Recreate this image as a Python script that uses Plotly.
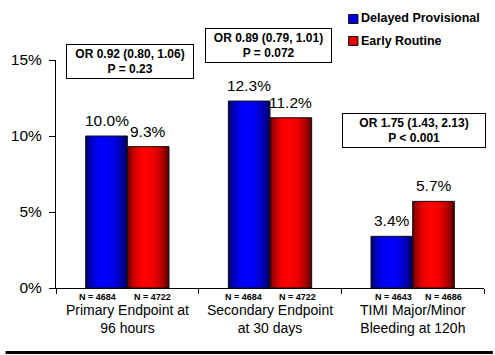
import math
import plotly.graph_objects as go

# ---------------- data ----------------
categories = ["Primary Endpoint at<br>96 hours",
              "Secondary Endpoint<br>at 30 days",
              "TIMI Major/Minor<br>Bleeding at 120h"]
series_names = ["Delayed Provisional", "Early Routine"]
delayed_vals = [10.0, 12.3, 3.4]
early_vals = [9.3, 11.2, 5.7]
n_delayed = [4684, 4684, 4643]
n_early = [4722, 4722, 4686]
or_lines = ["OR 0.92 (0.80, 1.06)", "OR 0.89 (0.79, 1.01)", "OR 1.75 (1.43, 2.13)"]
p_lines = ["P = 0.23", "P = 0.072", "P < 0.001"]
y_tickvals = [0, 5, 10, 15]
y_ticktext = ["0%", "5%", "10%", "15%"]

# ---------------- style ----------------
FONT = "Liberation Sans, Arial, sans-serif"
W = 495
H = 355
ML, MR, MT, MB = 51, 11, 60, 67
PW = W - ML - MR
PH = H - MT - MB
BAR_W = 0.292          # width of one bar in category units
STRIPS = 18

def px_x(px):
    return (px - ML) / PW

def px_y(py):
    return (H - MB - py) / PH

def shade(t):
    tt = t ** 0.87
    return 0.22 + 0.78 * (math.sin(math.pi * tt) ** 0.6)

fig = go.Figure()

series = [
    (delayed_vals, -BAR_W, (0, 0, 255), "#0000e6"),
    (early_vals, 0.0, (255, 0, 0), "#e60000"),
]

for vals, off, rgb, solid in series:
    for k in range(STRIPS):
        t = (k + 0.5) / STRIPS
        f = shade(t)
        col = "rgb(%d,%d,%d)" % tuple(int(c * f) for c in rgb)
        fig.add_trace(go.Bar(
            x=categories, y=vals,
            offset=off + k * BAR_W / STRIPS,
            width=BAR_W / STRIPS * 1.35 if k < STRIPS - 1 else BAR_W / STRIPS,
            marker=dict(color=col, line=dict(width=0)),
            showlegend=False, hoverinfo="skip",
        ))
    # outline
    fig.add_trace(go.Bar(
        x=categories, y=vals, offset=off, width=BAR_W,
        marker=dict(color="rgba(0,0,0,0)", line=dict(color="#111111", width=1)),
        showlegend=False, hoverinfo="skip",
    ))

annotations = []
# value labels
for i in range(len(categories)):
    for vals, sign in ((delayed_vals, -1), (early_vals, 1)):
        annotations.append(dict(
            x=i + sign * BAR_W / 2, y=vals[i], xref="x", yref="y",
            text="%.1f%%" % vals[i], showarrow=False,
            yanchor="bottom", xanchor="center", yshift=5,
            font=dict(family=FONT, size=15.5, color="black"),
        ))
# N labels
n_shift = [(-30, 25), (-27, 27), (-19, 31)]
for i in range(len(categories)):
    for nlist, j in ((n_delayed, 0), (n_early, 1)):
        annotations.append(dict(
            x=i, y=0, xref="x", yref="paper",
            text="N = %d" % nlist[i], showarrow=False,
            xanchor="center", yanchor="top", xshift=n_shift[i][j], yshift=-2,
            font=dict(family=FONT, size=9, color="black", weight="bold"),
        ))
# category labels
for i, c in enumerate(categories):
    annotations.append(dict(
        x=i, y=0, xref="x", yref="paper", text=c, showarrow=False,
        xanchor="center", yanchor="top", yshift=-12,
        font=dict(family=FONT, size=14, color="black"),
    ))
# OR boxes
box_pos = [(126, 61.5, 122), (265.5, 45.5, 121), (413, 130.5, 138)]
for i in range(len(categories)):
    cx, cy, bw = box_pos[i]
    annotations.append(dict(
        x=px_x(cx), y=px_y(cy), xref="paper", yref="paper",
        text=or_lines[i] + "<br>" + p_lines[i], showarrow=False,
        xanchor="center", yanchor="middle", width=bw, height=29,
        bordercolor="black", borderwidth=1, borderpad=2, bgcolor="white",
        font=dict(family=FONT, size=12, color="black", weight="bold"),
    ))
# legend text
leg = [(series_names[0], 18.5, "#0000e6"), (series_names[1], 40.5, "#e60000")]
shapes = []
for name, cy, col in leg:
    annotations.append(dict(
        x=px_x(358), y=px_y(cy), xref="paper", yref="paper", text=name,
        showarrow=False, xanchor="left", yanchor="middle",
        font=dict(family=FONT, size=12.5, color="black", weight="bold"),
    ))
    shapes.append(dict(
        type="rect", xref="paper", yref="paper",
        x0=px_x(347), x1=px_x(356.5), y0=px_y(cy + 5), y1=px_y(cy - 4),
        fillcolor=col, line=dict(color="#111111", width=1),
    ))
# bottom rule
shapes.append(dict(
    type="line", xref="paper", yref="paper",
    x0=px_x(0), x1=px_x(493), y0=px_y(352.5), y1=px_y(352.5),
    line=dict(color="black", width=3),
))

fig.update_layout(
    width=W, height=H, autosize=False,
    margin=dict(l=ML, r=MR, t=MT, b=MB, pad=0),
    barmode="overlay",
    paper_bgcolor="white", plot_bgcolor="white",
    showlegend=False,
    annotations=annotations, shapes=shapes,
    font=dict(family=FONT, color="black"),
    xaxis=dict(
        type="category", range=[-0.5, 2.5], showticklabels=False,
        tickson="boundaries", ticks="outside", ticklen=5, tickcolor="black",
        showline=True, linecolor="black", linewidth=1,
        showgrid=False, zeroline=False, fixedrange=True,
    ),
    yaxis=dict(
        range=[0, 15], tickvals=y_tickvals, ticktext=y_ticktext,
        ticks="outside", ticklen=6, tickcolor="black",
        showline=True, linecolor="black", linewidth=1,
        showgrid=False, zeroline=False, fixedrange=True,
        tickfont=dict(family=FONT, size=15.5, color="black"),
        ticklabelstandoff=4,
    ),
)

fig.write_html(
    "out.html",
    config={"displayModeBar": False},
    post_script="document.body.style.margin='0';document.body.style.padding='0';",
)
